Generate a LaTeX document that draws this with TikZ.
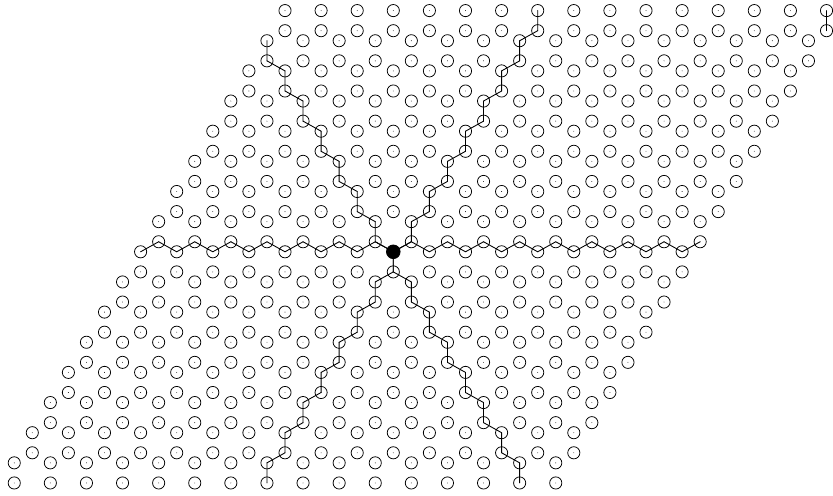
\documentclass[tikz,border=0pt]{standalone}
\usetikzlibrary{calc}
\tikzset{
  site/.style={circle,draw,line width=0.65pt,inner sep=0pt,minimum size=3.65mm,
    path picture={\fill (path picture bounding box.center) circle (0.35pt);}},
  hub/.style={circle,draw,fill=black,line width=0.65pt,inner sep=0pt,minimum size=4.1mm},
  bond/.style={line width=0.75pt,line join=round}
}

\begin{document}
\begin{tikzpicture}[x=0.3mm,y=-0.3mm]
  \useasboundingbox (0,0) rectangle (833,496);
  % upper sites of the zigzag rows (row 15 is the bottom line)
  \foreach \k in {0,...,15}
    \foreach \i in {0,...,15}
      \node[site] (a\k-\i) at ({285-18.05*\k+36.1*\i},{30.7+30.15*\k}) {};
  % lower sites (row -1 is the top line)
  \foreach \k in {-1,...,14}
    \foreach \i in {0,...,15}
      \node[site] (b\k-\i) at ({266.95-18.05*\k+36.1*\i},{40.75+30.15*\k}) {};
  \node[hub] (core) at (b7-7) {};

  % six strings out of the core
  \draw[bond] (core.center) \foreach \i in {6,...,0} { -- (a7-\i.center) -- (b7-\i.center) };
  \draw[bond] (core.center) -- (a7-7.center) \foreach \i in {8,...,15} { -- (b7-\i.center) -- (a7-\i.center) };
  \draw[bond] (core.center) \foreach \k [evaluate=\k as \j using int(\k-1)] in {7,...,1}
    { -- (a\k-\j.center) -- (b\j-\j.center) };
  \draw[bond] (core.center) \foreach \k [evaluate=\k as \j using int(\k-1)] in {7,...,0}
    { -- (a\k-7.center) -- (b\j-7.center) };
  \draw[bond] (core.center) \foreach \k in {8,...,14} { -- (a\k-7.center) -- (b\k-7.center) }
    -- (a15-7.center);
  \draw[bond] (core.center) \foreach \k [evaluate=\k as \j using int(\k-1)] in {8,...,14}
    { -- (a\k-\j.center) -- (b\k-\k.center) } -- (a15-14.center);
  % wrapped piece at the corner
  \draw[bond] (b-1-15.center) -- (a0-15.center);
\end{tikzpicture}
\end{document}
